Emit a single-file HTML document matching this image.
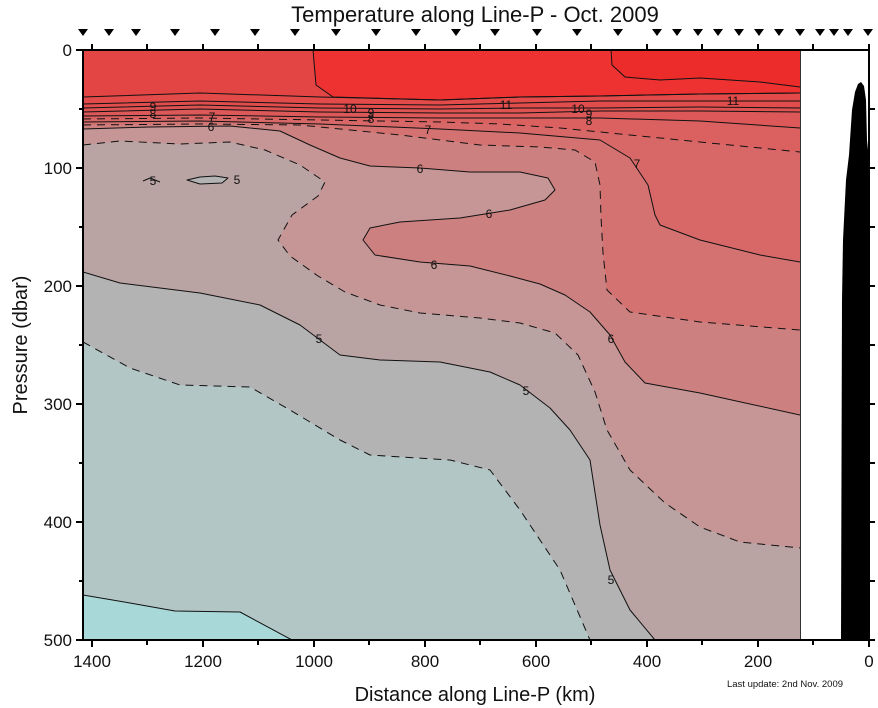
<!DOCTYPE html>
<html><head><meta charset="utf-8"><style>body{margin:0;background:#fff}svg{display:block}text{font-family:"Liberation Sans",sans-serif}</style></head><body>
<svg width="878" height="708" viewBox="0 0 878 708" xmlns="http://www.w3.org/2000/svg">
<rect width="878" height="708" fill="#fff"/>
<clipPath id="c"><rect x="83" y="50" width="717" height="590"/></clipPath>
<g clip-path="url(#c)" stroke-linejoin="round">
<rect x="83" y="50" width="717" height="590" fill="#b3c6c6"/>
<polygon fill="#a8d8d8" points="83,595 130,603 175,611 240,612 292,640 83,640"/>
<polygon fill="#b3b3b3" points="83,342 130,368 180,385 250,387 290,410 340,440 370,455 450,460 490,470 520,510 560,570 590,640 800,640 800,50 83,50"/>
<polygon fill="#b9a3a3" points="83,272 120,283 200,293 260,305 300,325 340,355 380,360 440,362 490,372 520,385 550,408 570,430 590,460 600,525 610,570 630,610 655,640 800,640 800,50 83,50"/>
<polygon fill="#b3b3b3" points="187,180 200,177 215,176 228,178 222,183 200,184"/>
<polygon fill="#c69595" points="83,145 120,141 180,144 230,142 265,150 300,165 325,182 318,196 292,215 278,240 290,256 318,276 345,292 380,305 420,313 480,318 520,323 555,333 578,355 595,392 607,430 630,470 665,503 700,527 740,542 800,548 800,50 83,50"/>
<polygon fill="#cd8080" points="83,129 150,127 230,126 280,131 310,145 340,158 370,166 420,168 470,172 520,172 548,178 555,190 545,200 510,210 460,218 400,222 370,228 363,240 375,255 420,262 470,266 510,276 540,284 565,295 590,312 610,335 625,362 645,383 700,393 800,415 800,50 83,50"/>
<polygon fill="#d47272" points="83,125 200,124 300,125 400,135 480,145 540,147 575,150 595,162 600,185 601,217 603,253 607,290 630,312 700,322 800,330 800,50 83,50"/>
<polygon fill="#d86868" points="83,122 200,121 320,124 440,129 520,133 600,140 630,158 648,185 655,215 660,225 700,240 760,255 800,262 800,50 83,50"/>
<polygon fill="#db6060" points="83,119 200,118 320,120 440,122 500,124 560,128 600,132 700,142 800,152 800,50 83,50"/>
<polygon fill="#dd5858" points="83,116 200,115 320,117 440,118 520,118 600,118 700,121 800,128 800,50 83,50"/>
<polygon fill="#df5252" points="83,112 200,109 320,112 440,113 520,113 600,111 700,111 800,112 800,50 83,50"/>
<polygon fill="#e14c4c" points="83,108 200,105 320,108 440,109 520,108 600,108 700,107 800,108 800,50 83,50"/>
<polygon fill="#e34a4a" points="83,104 200,101 320,104 440,105 520,103 600,101 700,101 800,101 800,50 83,50"/>
<polygon fill="#e34444" points="83,97 200,93 320,97 440,100 520,97 600,96 700,94 800,93 800,50 83,50"/>
<polygon fill="#ee3232" points="313,50 316,85 333,97 440,100 520,97 600,96 700,94 800,93 800,50"/>
<polygon fill="#ec2b2b" points="611,50 612,65 625,77 660,80 700,78 760,82 800,87 800,50"/>
<g fill="none" stroke="#111" stroke-width="1">
<polyline points="313,50 316,85 333,97 440,100 520,97 600,96 700,94 800,93"/>
<polyline points="611,50 612,65 625,77 660,80 700,78 760,82 800,87"/>
<polyline points="83,97 200,93 320,97 440,100 520,97 600,96 700,94 800,93"/>
<polyline points="83,104 200,101 320,104 440,105 520,103 600,101 700,101 800,101"/>
<polyline points="83,108 200,105 320,108 440,109 520,108 600,108 700,107 800,108"/>
<polyline points="83,112 200,109 320,112 440,113 520,113 600,111 700,111 800,112"/>
<polyline points="83,116 200,115 320,117 440,118 520,118 600,118 700,121 800,128"/>
<polyline stroke-dasharray="8,6" points="83,119 200,118 320,120 440,122 500,124 560,128 600,132 700,142 800,152"/>
<polyline points="83,122 200,121 320,124 440,129 520,133 600,140 630,158 648,185 655,215 660,225 700,240 760,255 800,262"/>
<polyline stroke-dasharray="8,6" points="83,125 200,124 300,125 400,135 480,145 540,147 575,150 595,162 600,185 601,217 603,253 607,290 630,312 700,322 800,330"/>
<polyline points="83,129 150,127 230,126 280,131 310,145 340,158 370,166 420,168 470,172 520,172 548,178 555,190 545,200 510,210 460,218 400,222 370,228 363,240 375,255 420,262 470,266 510,276 540,284 565,295 590,312 610,335 625,362 645,383 700,393 800,415"/>
<polyline stroke-dasharray="8,6" points="83,145 120,141 180,144 230,142 265,150 300,165 325,182 318,196 292,215 278,240 290,256 318,276 345,292 380,305 420,313 480,318 520,323 555,333 578,355 595,392 607,430 630,470 665,503 700,527 740,542 800,548"/>
<polyline points="83,272 120,283 200,293 260,305 300,325 340,355 380,360 440,362 490,372 520,385 550,408 570,430 590,460 600,525 610,570 630,610 655,640"/>
<polyline stroke-dasharray="8,6" points="83,342 130,368 180,385 250,387 290,410 340,440 370,455 450,460 490,470 520,510 560,570 590,640"/>
<polyline points="83,595 130,603 175,611 240,612 292,640"/>
<polygon points="187,180 200,177 215,176 228,178 222,183 200,184"/>
<polyline points="143,181 150,178 160,182"/>
</g>
<g font-size="12" fill="#111" text-anchor="middle">
<text x="153" y="111">9</text><text x="153" y="118">8</text><text x="212" y="121">7</text><text x="211" y="131">6</text>
<text x="350" y="113">10</text><text x="371" y="117">9</text><text x="371" y="123">8</text><text x="428" y="134">7</text>
<text x="506" y="109">11</text><text x="578" y="113">10</text><text x="589" y="118">9</text><text x="589" y="125">8</text>
<text x="733" y="105">11</text><text x="637" y="168">7</text><text x="420" y="173">6</text><text x="489" y="218">6</text>
<text x="434" y="269">6</text><text x="153" y="185">5</text><text x="237" y="184">5</text><text x="319" y="343">5</text>
<text x="526" y="395">5</text><text x="611" y="584">5</text><text x="611" y="343">6</text>
</g>
</g>
<rect x="800" y="50" width="69" height="590" fill="#fff"/>
<polygon fill="#000" points="841,640 842,300 843,240 846,180 849,155 852,110 855,92 858,84 861,82 864,86 866,100 867,140 869,160 869,640"/>
<line x1="800.5" y1="50" x2="800.5" y2="640" stroke="#333" stroke-width="1"/>
<g stroke="#000" stroke-width="2" fill="none">
<polyline points="83,50 869,50 869,640 83,640 83,50"/>
<path d="M76,50H83M76,168H83M76,286H83M76,404H83M76,522H83M76,640H83M79,109H83M79,227H83M79,345H83M79,463H83M79,581H83"/>
<path d="M869,109H875M869,168H875M869,227H875M869,286H875M869,345H875M869,404H875M869,463H875M869,522H875M869,581H875M869,640H875"/>
<path d="M92,640V647M203,640V647M314,640V647M425,640V647M536,640V647M647,640V647M758,640V647M869,640V647M147,640V645M258,640V645M369,640V645M480,640V645M591,640V645M702,640V645M813,640V645"/>
<path d="M92,50V44M147,50V44M203,50V44M258,50V44M314,50V44M369,50V44M425,50V44M480,50V44M536,50V44M591,50V44M647,50V44M702,50V44M758,50V44M813,50V44M869,50V44"/>
</g>
<g fill="#000">
<path d="M78,29h10l-5,7z M104,29h10l-5,7z M131,29h10l-5,7z M170,29h10l-5,7z M210,29h10l-5,7z M250,29h10l-5,7z M290,29h10l-5,7z M331,29h10l-5,7z M371,29h10l-5,7z M411,29h10l-5,7z M451,29h10l-5,7z M490,29h10l-5,7z M532,29h10l-5,7z M572,29h10l-5,7z M613,29h10l-5,7z M652,29h10l-5,7z M672,29h10l-5,7z M693,29h10l-5,7z M713,29h10l-5,7z M734,29h10l-5,7z M754,29h10l-5,7z M774,29h10l-5,7z M795,29h10l-5,7z M815,29h10l-5,7z M829,29h10l-5,7z M843,29h10l-5,7z M863,29h10l-5,7z"/>
</g>
<text x="475" y="22" font-size="22" text-anchor="middle" fill="#111">Temperature along Line-P - Oct. 2009</text>
<g font-size="17" fill="#111" text-anchor="end">
<text x="72" y="56">0</text><text x="72" y="174">100</text><text x="72" y="292">200</text><text x="72" y="410">300</text><text x="72" y="528">400</text><text x="72" y="646">500</text>
</g>
<g font-size="17" fill="#111" text-anchor="middle">
<text x="92" y="667">1400</text><text x="203" y="667">1200</text><text x="314" y="667">1000</text><text x="425" y="667">800</text><text x="536" y="667">600</text><text x="647" y="667">400</text><text x="758" y="667">200</text><text x="869" y="667">0</text>
</g>
<text x="475" y="701" font-size="20" text-anchor="middle" fill="#111">Distance along Line-P (km)</text>
<text x="27" y="345" font-size="20" text-anchor="middle" fill="#111" transform="rotate(-90 27 345)">Pressure (dbar)</text>
<text x="785" y="687" font-size="9.5" text-anchor="middle" fill="#111">Last update: 2nd Nov. 2009</text>
</svg>
</body></html>
